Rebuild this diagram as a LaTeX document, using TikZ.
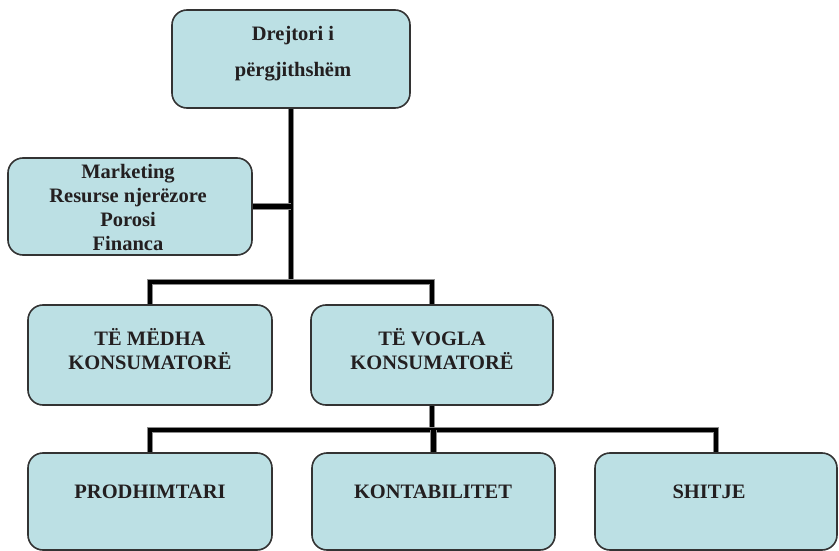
\documentclass[tikz,border=0pt]{standalone}
\usepackage{fontspec}
\setmainfont{Liberation Serif}
\begin{document}
\begin{tikzpicture}[x=1pt,y=-1pt,
  box/.style={draw=black!80,line width=1.6pt,fill=boxfill,rounded corners=15pt,inner sep=0pt},
  txt/.style={text=textdark,font=\bfseries\fontsize{20.5}{24}\selectfont,align=center,inner sep=0pt},
  link/.style={line width=4.6pt,line join=miter,preaction={draw=black!45,line width=6.4pt}}]
\definecolor{boxfill}{RGB}{188,224,228}
\definecolor{textdark}{RGB}{35,31,32}
\useasboundingbox (0,0) rectangle (839,551);

% boxes
\node[box,minimum width=238pt,minimum height=98pt] (top) at (291,59) {};
\node[box,minimum width=244pt,minimum height=97pt] (staff) at (130,206.5) {};
\node[box,minimum width=244pt,minimum height=100pt] (medha) at (150,355) {};
\node[box,minimum width=242pt,minimum height=100pt] (vogla) at (432,355) {};
\node[box,minimum width=244pt,minimum height=97pt] (prod) at (150,501.5) {};
\node[box,minimum width=243pt,minimum height=97pt] (kont) at (433.5,501.5) {};
\node[box,minimum width=242pt,minimum height=97pt] (shit) at (716,501.5) {};

% labels
\node[txt] (topa) at (293,36) {Drejtori i};
\node[txt] (topb) at (293,72) {përgjithshëm};
\node[txt] (stafft) at (128,207) {Marketing\\Resurse njerëzore\\Porosi\\Financa};
\node[txt] (medhat) at (150,349) {TË MËDHA\\KONSUMATORË};
\node[txt] (voglat) at (432,349) {TË VOGLA\\KONSUMATORË};
\node[txt] (prodt) at (150,492) {PRODHIMTARI};
\node[txt] (kontt) at (433,492) {KONTABILITET};
\node[txt] (shitt) at (709,492) {SHITJE};

% junction levels
\coordinate (j1) at (291,282);
\coordinate (j2) at (433,430);

% connectors
\draw[link] (top.south) -- (top.south |- j1);
\draw[link] (staff.east) -- (staff.east -| top.south);
\draw[link] (medha.north) -- (medha.north |- j1) -- (vogla.north |- j1) -- (vogla.north);
\draw[link] (vogla.south) -- (vogla.south |- j2);
\draw[link] (prod.north) -- (prod.north |- j2) -- (shit.north |- j2) -- (shit.north);
\draw[link] (kont.north) -- (kont.north |- j2);
\end{tikzpicture}
\end{document}
